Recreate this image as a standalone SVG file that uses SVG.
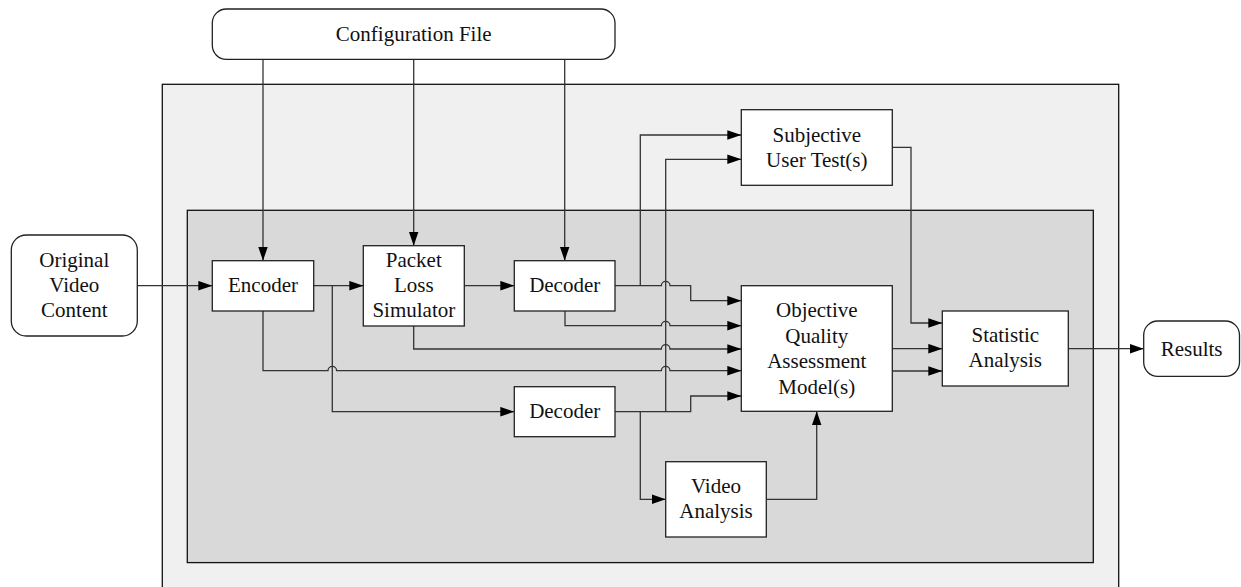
<svg xmlns="http://www.w3.org/2000/svg" width="1241" height="587" viewBox="0 0 1241 587">
<style>
.box{fill:#fff;stroke:#222;stroke-width:1.3}
.c{fill:none;stroke:#333;stroke-width:1.3}
text{font-family:"Liberation Serif","Times New Roman",serif;font-size:21px;fill:#111;text-anchor:middle}
</style>
<defs>
<marker id="ah" markerUnits="userSpaceOnUse" markerWidth="15" markerHeight="11" refX="14" refY="5" orient="auto">
<path d="M0,0.2 L14,5 L0,9.8 z" fill="#000"/>
</marker>
</defs>
<g id="outer"><rect x="162.3" y="84.3" width="956.4" height="520" fill="#f0f0f0" stroke="#111" stroke-width="1.3"/></g>
<g id="inner"><rect x="187.3" y="210.3" width="906" height="352.3" fill="#d9d9d9" stroke="#111" stroke-width="1.3"/></g>
<g id="connectors">
<path class="c" d="M263,59.3 V260.7" marker-end="url(#ah)"/>
<path class="c" d="M413.7,59.3 V245.7" marker-end="url(#ah)"/>
<path class="c" d="M564.7,59.3 V260.7" marker-end="url(#ah)"/>
<path class="c" d="M137.3,285.7 H212.3" marker-end="url(#ah)"/>
<path class="c" d="M313.7,285.7 H363.3" marker-end="url(#ah)"/>
<path class="c" d="M332.3,285.7 V411.7 H514.3" marker-end="url(#ah)"/>
<path class="c" d="M464.3,285.7 H514.3" marker-end="url(#ah)"/>
<path class="c" d="M615,285.7 H661.4 A4.3,4.3 0 0 1 670,285.7 H690.7 V300.7 H741.3" marker-end="url(#ah)"/>
<path class="c" d="M640.3,285.7 V135 H741.3" marker-end="url(#ah)"/>
<path class="c" d="M565,311 V325.7 H661.4 A4.3,4.3 0 0 1 670,325.7 H741.3" marker-end="url(#ah)"/>
<path class="c" d="M413.7,326 V349 H661.4 A4.3,4.3 0 0 1 670,349 H741.3" marker-end="url(#ah)"/>
<path class="c" d="M263,311 V370.7 H328 A4.3,4.3 0 0 1 336.6,370.7 H661.4 A4.3,4.3 0 0 1 670,370.7 H741.3" marker-end="url(#ah)"/>
<path class="c" d="M615,411.7 H690.7 V396 H741.3" marker-end="url(#ah)"/>
<path class="c" d="M665.7,411.7 V159.3 H741.3" marker-end="url(#ah)"/>
<path class="c" d="M640.3,411.7 V499.3 H665.7" marker-end="url(#ah)"/>
<path class="c" d="M766.3,499.3 H816.7 V411.3" marker-end="url(#ah)"/>
<path class="c" d="M892.3,147.3 H911 V323 H942.3" marker-end="url(#ah)"/>
<path class="c" d="M892.3,348.7 H942.3" marker-end="url(#ah)"/>
<path class="c" d="M892.3,371 H942.3" marker-end="url(#ah)"/>
<path class="c" d="M1068.3,348.7 H1143.7" marker-end="url(#ah)"/>
</g>
<g id="config"><rect class="box" x="212.3" y="9" width="402.7" height="50.3" rx="14"/><text x="413.7" y="41">Configuration File</text></g>
<g id="original"><rect class="box" x="11.3" y="235" width="126" height="101" rx="15"/><text x="74.3" y="267">Original</text><text x="74.3" y="292">Video</text><text x="74.3" y="317">Content</text></g>
<g id="encoder"><rect class="box" x="212.3" y="260.7" width="101.4" height="50.3"/><text x="263" y="292.3">Encoder</text></g>
<g id="packet"><rect class="box" x="363.3" y="245.7" width="101" height="80.3"/><text x="413.8" y="267">Packet</text><text x="413.8" y="292">Loss</text><text x="413.8" y="317">Simulator</text></g>
<g id="decoder1"><rect class="box" x="514.3" y="260.7" width="100.7" height="50.3"/><text x="564.7" y="292.3">Decoder</text></g>
<g id="decoder2"><rect class="box" x="514.3" y="386.7" width="100.7" height="50"/><text x="564.7" y="418.3">Decoder</text></g>
<g id="subjective"><rect class="box" x="741.3" y="109.7" width="151" height="75.6"/><text x="816.8" y="141.5">Subjective</text><text x="816.8" y="166.5">User Test(s)</text></g>
<g id="objective"><rect class="box" x="741.3" y="285.7" width="151" height="125.6"/><text x="816.8" y="317">Objective</text><text x="816.8" y="342.5">Quality</text><text x="816.8" y="368">Assessment</text><text x="816.8" y="393.5">Model(s)</text></g>
<g id="video"><rect class="box" x="665.7" y="461.7" width="100.6" height="75.3"/><text x="716" y="493">Video</text><text x="716" y="518">Analysis</text></g>
<g id="statistic"><rect class="box" x="942.3" y="311" width="126" height="75"/><text x="1005.3" y="342">Statistic</text><text x="1005.3" y="367">Analysis</text></g>
<g id="results"><rect class="box" x="1143.7" y="321" width="95.8" height="55.3" rx="14"/><text x="1191.6" y="355.5">Results</text></g>
</svg>
